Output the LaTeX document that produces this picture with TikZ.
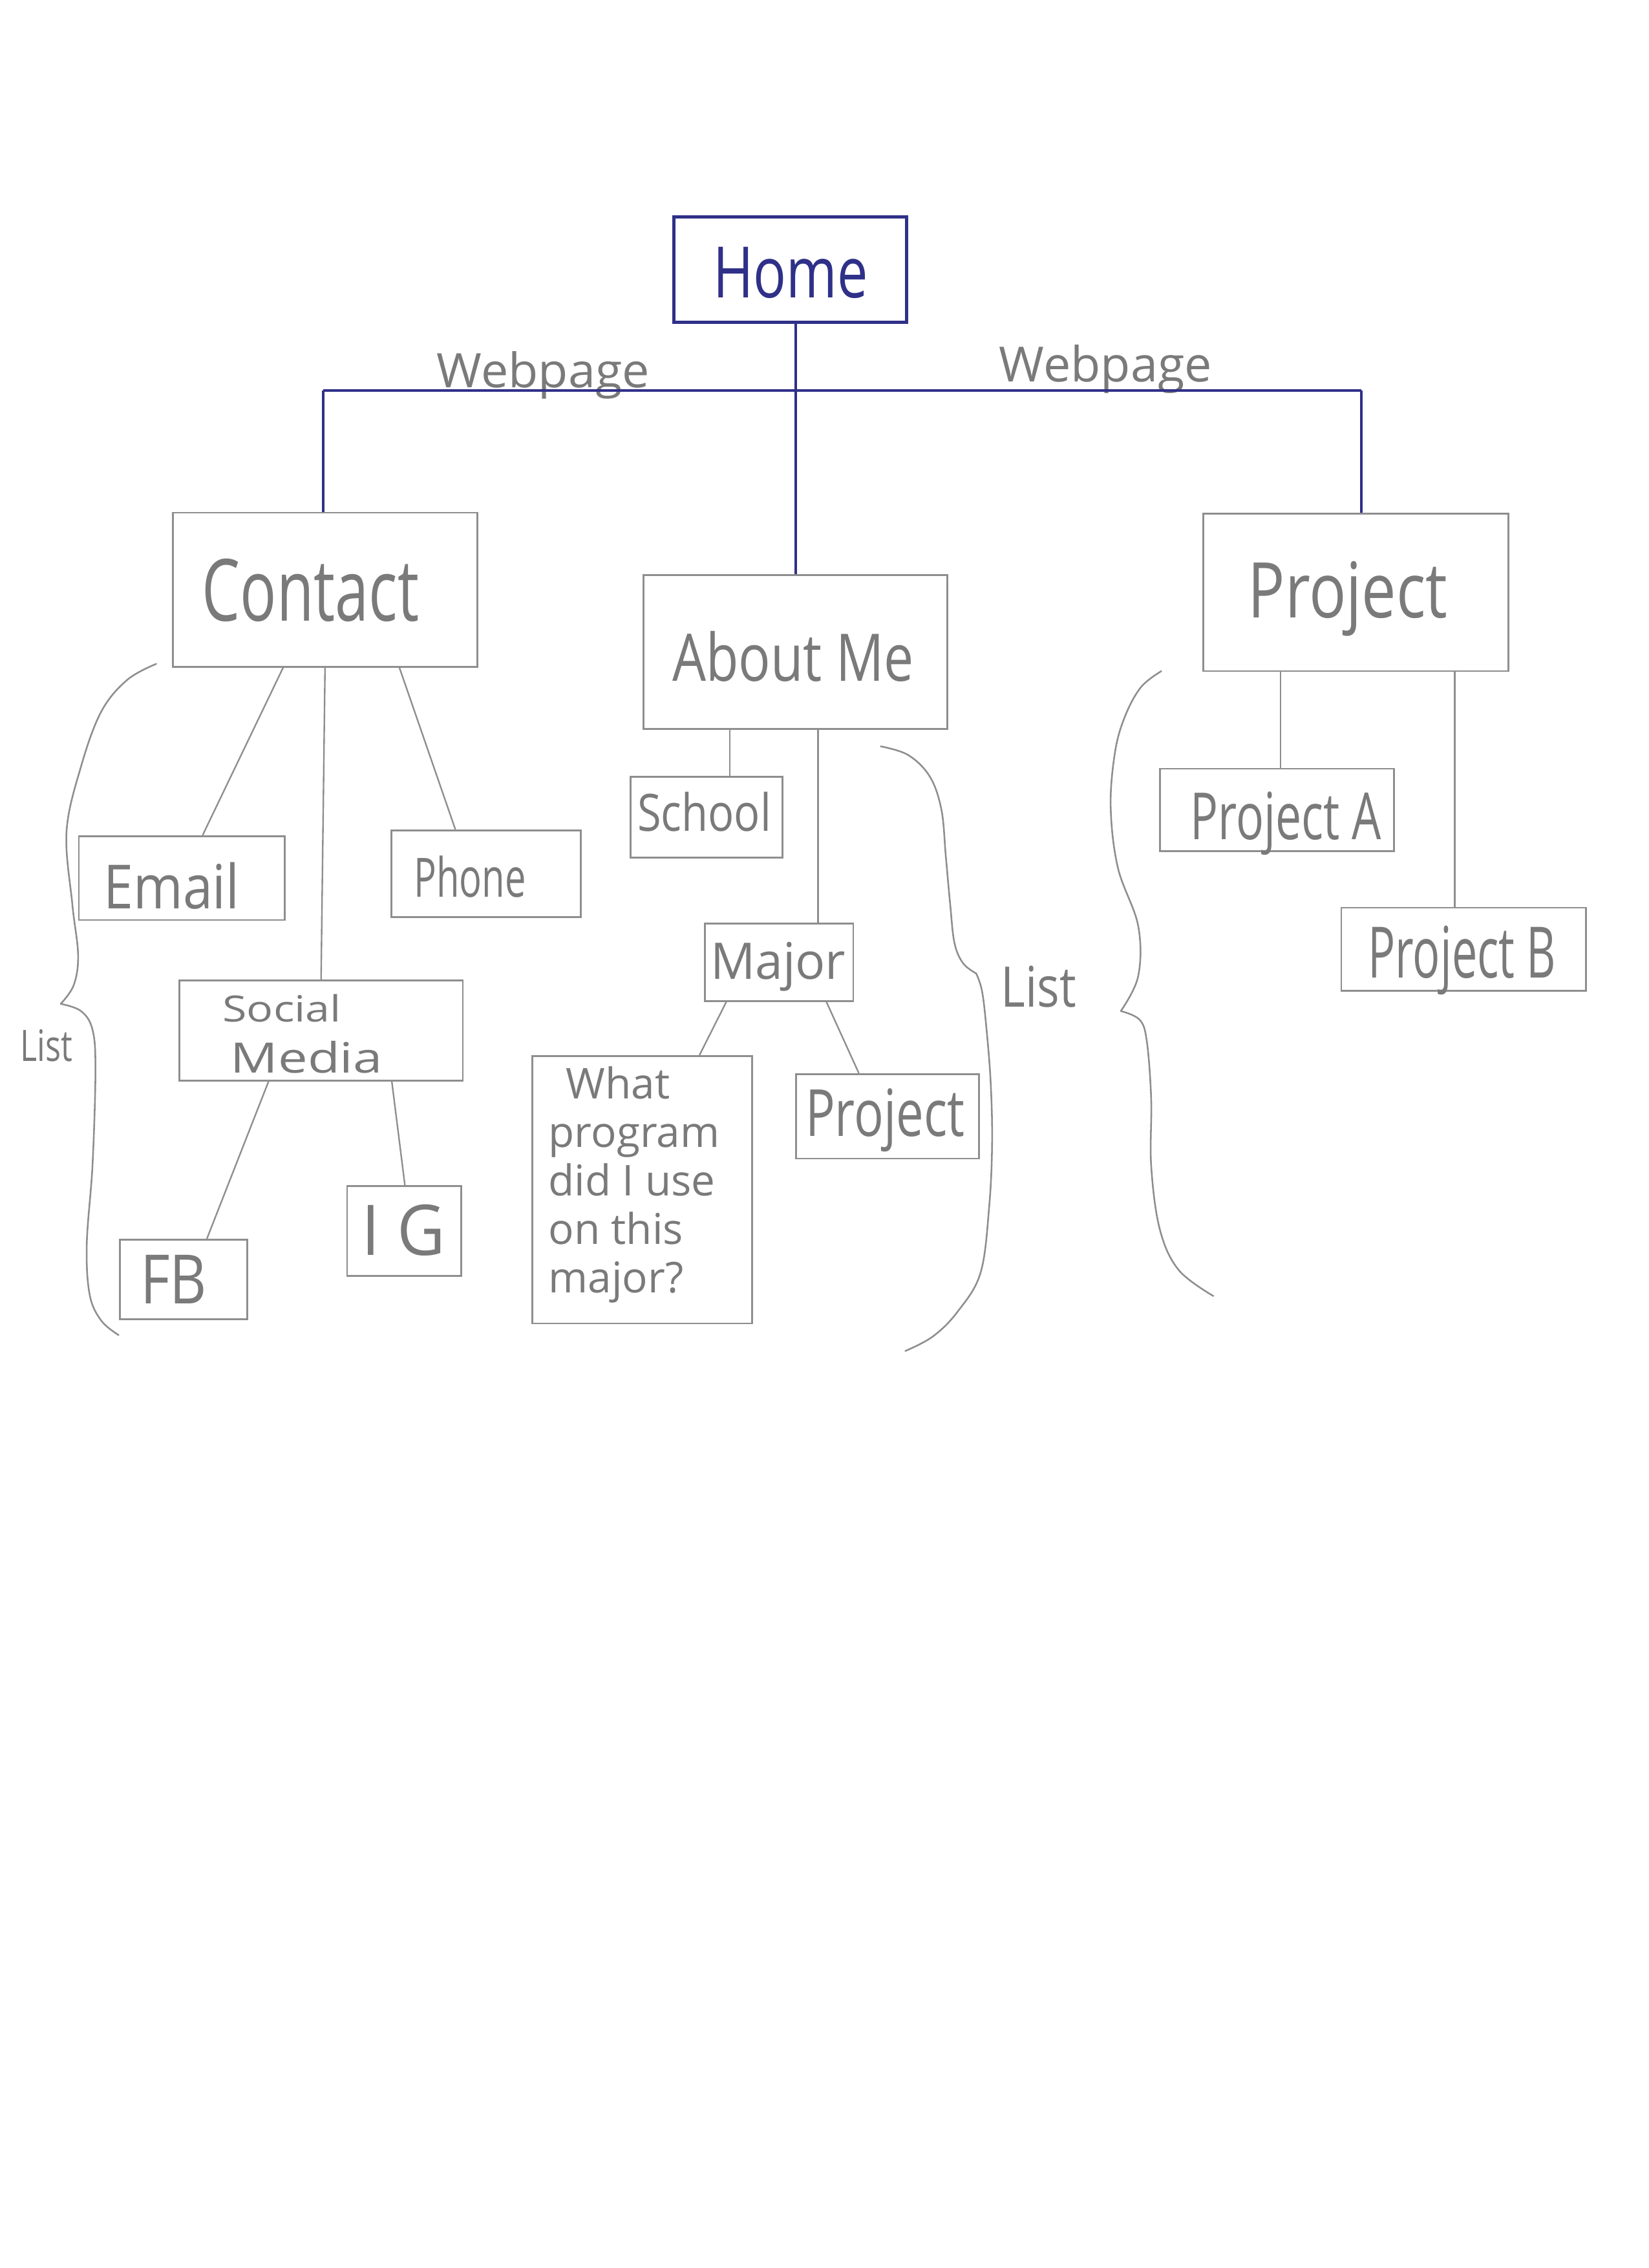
\documentclass[tikz,border=0pt]{standalone}
\usepackage{fontspec}
\setmainfont{Open Sans}
\usetikzlibrary{calc}
\definecolor{pencil}{HTML}{8E8E8E}
\definecolor{penciltext}{HTML}{7A7A7A}
\definecolor{navy}{HTML}{2F3088}
\newlength\px
\setlength\px{0.02cm}
\newcommand\lab[3]{\resizebox{#1\px}{#2\px}{#3}}
\begin{document}
\begin{tikzpicture}[x=0.02cm,y=-0.02cm,
  box/.style={draw=pencil, line width=0.7pt, inner sep=0pt},
  homebox/.style={draw=navy, line width=1.3pt, inner sep=0pt},
  txt/.style={text=penciltext, inner sep=0pt, anchor=base},
  link/.style={draw=pencil, line width=0.6pt},
  navyline/.style={draw=navy, line width=1pt},
  brace/.style={draw=pencil, line width=0.65pt, line cap=round, line join=round}]
\useasboundingbox[fill=white] (0,0) rectangle (1140,1568);

% boxes
\node[homebox, minimum width=161\px, minimum height=73\px] (home) at (546.5,186.5) {};
\node[box, minimum width=210.5\px, minimum height=106.5\px] (contact) at (224.75,407.75) {};
\node[box, minimum width=210.2\px, minimum height=106.5\px] (about) at (549.9,450.75) {};
\node[box, minimum width=211\px, minimum height=109\px] (project) at (937.5,409.5) {};
\node[box, minimum width=142.5\px, minimum height=58\px] (email) at (125.75,607) {};
\node[box, minimum width=131\px, minimum height=60\px] (phone) at (336,604) {};
\node[box, minimum width=196\px, minimum height=69\px] (social) at (222,712.5) {};
\node[box, minimum width=88\px, minimum height=55\px] (fb) at (127,884.5) {};
\node[box, minimum width=79\px, minimum height=62\px] (ig) at (279.5,851) {};
\node[box, minimum width=105\px, minimum height=56\px] (school) at (488.5,565) {};
\node[box, minimum width=102.5\px, minimum height=53.5\px] (major) at (538.75,665.25) {};
\node[box, minimum width=152\px, minimum height=185\px] (what) at (444,822.5) {};
\node[box, minimum width=126.5\px, minimum height=58.5\px] (projsub) at (613.75,771.75) {};
\node[box, minimum width=162\px, minimum height=57\px] (projA) at (883,560) {};
\node[box, minimum width=169\px, minimum height=57.5\px] (projB) at (1012,656.25) {};

% texts
\node[txt, text=navy] (homeT) at (546.7,206) {\lab{107}{35}{Home}};
\node[txt] (web1) at (375.6,268) {\lab{147}{25}{Webpage}};
\node[txt] (web2) at (764.5,264) {\lab{147}{25.5}{Webpage}};
\node[txt] (contactT) at (214.7,429.4) {\lab{150}{43}{Contact}};
\node[txt] (aboutT) at (548.4,471) {\lab{167}{34.5}{About Me}};
\node[txt] (projectT) at (932,427) {\lab{138}{39}{Project}};
\node[txt] (emailT) at (118.7,628) {\lab{94}{32}{Email}};
\node[txt] (phoneT) at (324.9,620) {\lab{77.5}{28.5}{Phone}};
\node[txt] (socialT) at (195,706.5) {\lab{82}{19}{Social}};
\node[txt] (mediaT) at (212,741.6) {\lab{105}{22}{Media}};
\node[txt] (fbT) at (120,901.4) {\lab{46}{33.6}{FB}};
\node[txt] (igT) at (279,867.8) {\lab{58}{35}{I G}};
\node[txt] (list1) at (32,733.6) {\lab{36}{22}{List}};
\node[txt] (schoolT) at (487,574.5) {\lab{92.5}{27}{School}};
\node[txt] (majorT) at (538,677) {\lab{93.5}{25.6}{Major}};
\node[txt] (projsubT) at (612,785.5) {\lab{110}{33}{Project}};
\node[txt] (list2) at (718.3,696) {\lab{52}{28.4}{List}};
\node[txt] (projAT) at (889,580.3) {\lab{132}{33}{Project A}};
\node[txt] (projBT) at (1011,676.1) {\lab{130}{36}{Project B}};
\node[text=penciltext, inner sep=0pt, anchor=north west, align=left,
      font=\fontsize{16.7pt}{19.1pt}\selectfont] (whatT) at (379,737)
      {\hspace*{12\px}What\\program\\did I use\\on this\\major?};

% top connectors
\coordinate (jl) at (223.6,270);
\coordinate (jc) at (550.3,270);
\coordinate (jr) at (941.4,270);
\draw[navyline] (jl) -- (jr);
\draw[navyline] (home.south -| jc) -- (about.north -| jc);
\draw[navyline] (jl) -- (jl |- contact.north);
\draw[navyline] (jr) -- (jr |- project.north);

% contact branch
\draw[link] ($(contact.south west)!0.363!(contact.south east)$) -- ($(email.north west)!0.6!(email.north east)$);
\draw[link] (contact.south) -- (social.north);
\draw[link] ($(contact.south west)!0.743!(contact.south east)$) -- ($(phone.north west)!0.34!(phone.north east)$);
\draw[link] ($(social.south west)!0.316!(social.south east)$) -- ($(fb.north west)!0.68!(fb.north east)$);
\draw[link] ($(social.south west)!0.748!(social.south east)$) -- ($(ig.north west)!0.506!(ig.north east)$);

% about branch
\coordinate (s1) at ($(school.north west)!0.652!(school.north east)$);
\draw[link] (s1) -- (s1 |- about.south);
\coordinate (m1) at ($(major.north west)!0.76!(major.north east)$);
\draw[link] (m1) -- (m1 |- about.south);
\draw[link] ($(major.south west)!0.148!(major.south east)$) -- ($(what.north west)!0.759!(what.north east)$);
\draw[link] ($(major.south west)!0.815!(major.south east)$) -- ($(projsub.north west)!0.344!(projsub.north east)$);

% project branch
\coordinate (pa) at ($(projA.north west)!0.515!(projA.north east)$);
\draw[link] (pa) -- (pa |- project.south);
\coordinate (pb) at ($(projB.north west)!0.464!(projB.north east)$);
\draw[link] (pb) -- (pb |- project.south);

% braces
\draw[brace] plot[smooth, tension=0.6] coordinates {(108,459) (88,470) (70,492) (56,530) (46,575) (50,625) (54,660) (51,681) (42,694)};
\draw[brace] plot[smooth, tension=0.6] coordinates {(42,694) (56,699) (64,712) (66,740) (64,805) (60,860) (62,895) (70,913) (82,923)};
\draw[brace] plot[smooth, tension=0.6] coordinates {(609,516) (628,522) (643,537) (651,560) (654,592) (657,625) (660,652) (666,666) (675,673)};
\draw[brace] plot[smooth, tension=0.6] coordinates {(675,673) (679,685) (682,710) (685,748) (686,790) (684,834) (678,880) (662,907) (645,924) (626,934)};
\draw[brace] plot[smooth, tension=0.6] coordinates {(803,464) (789,475) (778,495) (771,520) (768,558) (773,600) (787,640) (787,675) (775,699)};
\draw[brace] plot[smooth, tension=0.6] coordinates {(775,699) (788,705) (793,720) (796,760) (796,806) (802,850) (815,878) (839,896)};
\end{tikzpicture}
\end{document}
